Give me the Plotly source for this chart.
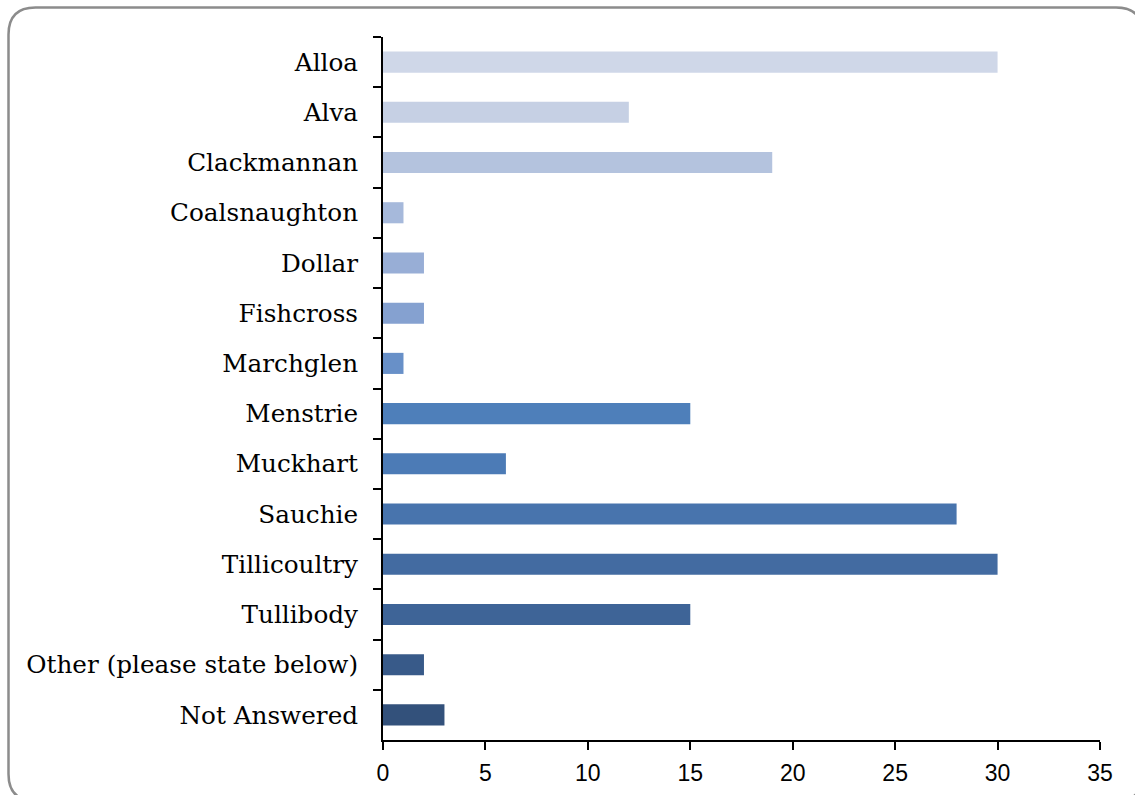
import plotly.graph_objects as go

categories = [
    "Alloa", "Alva", "Clackmannan", "Coalsnaughton", "Dollar", "Fishcross",
    "Marchglen", "Menstrie", "Muckhart", "Sauchie", "Tillicoultry",
    "Tullibody", "Other (please state below)", "Not Answered",
]
values = [30, 12, 19, 1, 2, 2, 1, 15, 6, 28, 30, 15, 2, 3]
bar_colors = [
    "#CFD7E8", "#C6D0E4", "#B4C3DE", "#A6B9DB", "#98AED6", "#85A1D0",
    "#6890C8", "#4E7FBA", "#4C7BB6", "#4874AD", "#436BA1", "#3E6497",
    "#385A89", "#33517B",
]
x_ticks = [0, 5, 10, 15, 20, 25, 30, 35]

W, H = 1135, 795
L, R, T, B = 383, 35, 37, 55
pw, ph = W - L - R, H - T - B


def px(x):
    return (x - L) / pw


def py(y):
    return (H - B - y) / ph


fig = go.Figure(go.Bar(
    x=values,
    y=categories,
    orientation="h",
    marker=dict(color=bar_colors, line=dict(width=0)),
    hoverinfo="x+y",
))

# rounded frame around the whole chart (runs slightly past the right/bottom edges)
x0, y0, x1, y1, r = 8.5, 7.5, 1143, 801, 27
frame = (
    f"M {px(x0 + r)},{py(y0)} L {px(x1 - r)},{py(y0)} "
    f"Q {px(x1)},{py(y0)} {px(x1)},{py(y0 + r)} "
    f"L {px(x1)},{py(y1 - r)} Q {px(x1)},{py(y1)} {px(x1 - r)},{py(y1)} "
    f"L {px(x0 + r)},{py(y1)} Q {px(x0)},{py(y1)} {px(x0)},{py(y1 - r)} "
    f"L {px(x0)},{py(y0 + r)} Q {px(x0)},{py(y0)} {px(x0 + r)},{py(y0)} Z"
)

fig.update_layout(
    width=W, height=H,
    margin=dict(l=L, r=R, t=T, b=B, pad=0, autoexpand=False),
    paper_bgcolor="white",
    plot_bgcolor="white",
    bargap=0.58,
    showlegend=False,
    shapes=[dict(type="path", path=frame, xref="paper", yref="paper",
                 line=dict(color="#8C8C8C", width=2.5), layer="below")],
    xaxis=dict(
        range=[0, 35], tickvals=x_ticks, ticks="outside", ticklen=8,
        tickwidth=2, tickcolor="black", showline=True, linecolor="black",
        linewidth=2, showgrid=False, zeroline=False, ticklabelstandoff=3,
        automargin=False,
        tickfont=dict(family="Liberation Sans", size=23, color="black"),
    ),
    yaxis=dict(
        categoryorder="array", categoryarray=categories, autorange="reversed",
        ticks="outside", tickson="boundaries", ticklen=8, tickwidth=2,
        tickcolor="black", showline=True, linecolor="black", linewidth=2,
        showgrid=False, zeroline=False, ticklabelstandoff=18,
        automargin=False,
        tickfont=dict(family="DejaVu Serif", size=24.7, color="black"),
    ),
)

fig.write_html("out.html")
